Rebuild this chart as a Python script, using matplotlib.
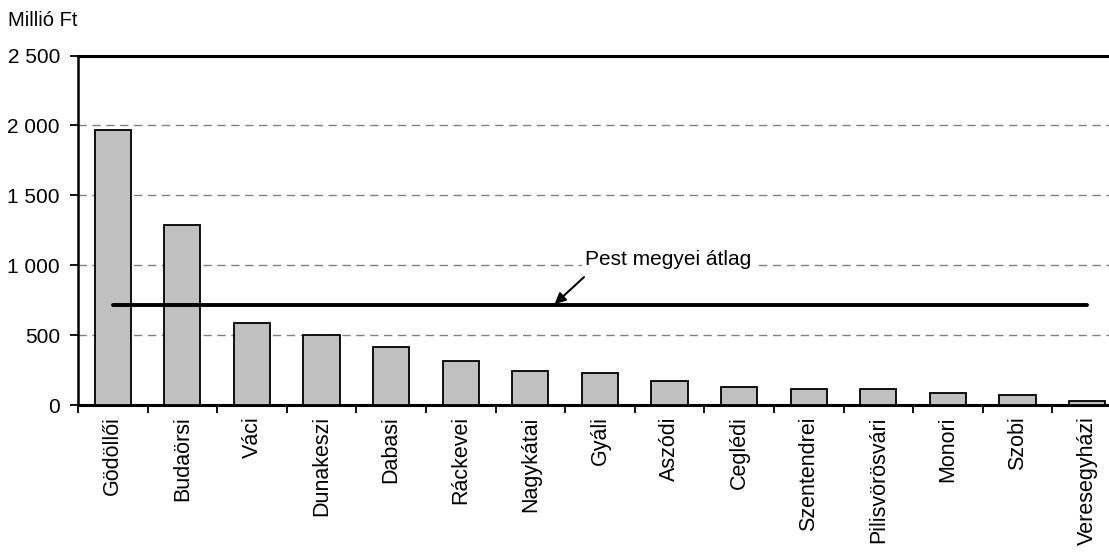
import matplotlib.pyplot as plt
import numpy as np

# Kistérségek és értékek (millió Ft)
kisterseg = ["Gödöllői", "Budaörsi", "Váci", "Dunakeszi", "Dabasi", "Ráckevei",
             "Nagykátai", "Gyáli", "Aszódi", "Ceglédi", "Szentendrei",
             "Pilisvörösvári", "Monori", "Szobi", "Veresegyházi"]
ertek = [1970, 1285, 588, 500, 417, 314, 244, 229, 171, 129, 112, 112, 87, 71, 29]
atlag = 713
y_tickek = [0, 500, 1000, 1500, 2000, 2500]
y_cimkek = ["0", "500", "1 000", "1 500", "2 000", "2 500"]

plt.rcParams['font.family'] = ['Liberation Sans', 'DejaVu Sans']

fig = plt.figure(figsize=(11.09, 5.53), dpi=100)
ax = fig.add_axes([0.0703, 0.2676, 0.9414, 0.632])

x = np.arange(len(kisterseg))
ax.bar(x, ertek, width=0.52, color='#C0C0C0', edgecolor='black', linewidth=1.3, zorder=3)

# Megyei átlag vonal
ax.plot(x, np.full(len(x), atlag), color='black', linewidth=2.8, solid_capstyle='round', zorder=4)

ax.annotate('', xy=(6.35, 722), xytext=(6.77, 915),
            arrowprops=dict(arrowstyle='-|>', color='black', lw=1.5, mutation_scale=16,
                            shrinkA=0, shrinkB=0), zorder=5)
ax.text(6.78, 1040, "Pest megyei átlag", fontsize=15, ha='left', va='center',
        zorder=5, bbox=dict(facecolor='white', edgecolor='none', pad=2))

ax.set_xlim(-0.5, len(kisterseg) - 0.5)
ax.set_ylim(0, 2500)
ax.set_yticks(y_tickek)
ax.set_yticklabels(y_cimkek, fontsize=15)
ax.set_xticks(x)
ax.set_xticklabels(kisterseg, rotation=90, fontsize=15.5, va='top')
ax.set_xticks(np.arange(-0.5, len(kisterseg), 1), minor=True)
ax.tick_params(axis='x', which='major', length=0, pad=8)
ax.tick_params(axis='x', which='minor', length=6, width=1.3, direction='out')
ax.tick_params(axis='y', length=6, width=1.3, direction='out', pad=7)

for y in y_tickek[1:-1]:
    ax.axhline(y, color='#808080', linewidth=1, linestyle=(0, (6, 4)), zorder=1)

ax.spines['right'].set_visible(False)
ax.spines['left'].set_linewidth(1.8)
ax.spines['bottom'].set_linewidth(2.2)
ax.spines['top'].set_linewidth(2.2)

fig.text(0.007, 0.963, "Millió Ft", fontsize=14.5, ha='left', va='center')

plt.savefig('out.png', dpi=100)
